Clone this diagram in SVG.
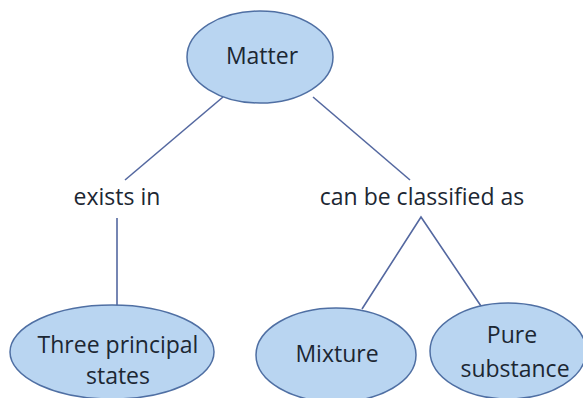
<svg xmlns="http://www.w3.org/2000/svg" width="583" height="398" viewBox="0 0 583 398">
<style>
.node{fill:#b9d5f1;stroke:#4f6fa3;stroke-width:1.5}
.t{font-family:"Open Sans","Noto Sans",sans-serif;font-size:23px;fill:#1c2733;text-anchor:middle}
.c{stroke:#5468a0;stroke-width:1.6;fill:none}
</style>
<rect width="583" height="398" fill="#ffffff"/>
<g id="connectors">
<line class="c" x1="223" y1="97" x2="125" y2="180"/>
<line class="c" x1="313" y1="97" x2="410" y2="180"/>
<line class="c" x1="117" y1="218" x2="117" y2="306"/>
<polyline class="c" points="362,309 421,217 483,309"/>
</g>
<g id="matter">
<ellipse class="node" cx="260" cy="57" rx="73" ry="46"/>
<text class="t" x="262" y="64">Matter</text>
</g>
<g id="exists-in">
<text class="t" x="117" y="205">exists in</text>
</g>
<g id="classified">
<text class="t" x="422" y="205">can be classified as</text>
</g>
<g id="three-states">
<ellipse class="node" cx="112" cy="352" rx="102" ry="47"/>
<text class="t" x="118" y="353">Three principal</text>
<text class="t" x="118" y="384">states</text>
</g>
<g id="mixture">
<ellipse class="node" cx="336" cy="355" rx="80" ry="47"/>
<text class="t" x="337" y="362">Mixture</text>
</g>
<g id="pure">
<ellipse class="node" cx="508" cy="351" rx="78" ry="48"/>
<text class="t" x="512" y="343">Pure</text>
<text class="t" x="515" y="377">substance</text>
</g>
</svg>
